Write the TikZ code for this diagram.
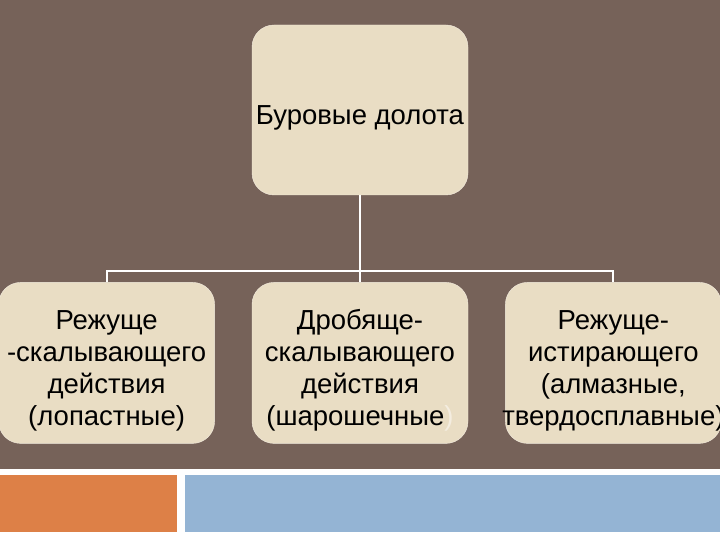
\documentclass[tikz,border=0pt]{standalone}
\usepackage{fontspec}
\setmainfont{Liberation Sans}
\usetikzlibrary{positioning,calc}
\definecolor{slidebrown}{HTML}{766259}
\definecolor{boxcream}{HTML}{E9DDC4}
\definecolor{boxedge}{HTML}{F4EDE0}
\definecolor{barorange}{HTML}{DD8047}
\definecolor{barblue}{HTML}{94B4D4}
\newcommand\toppad{\rule{0pt}{34pt}}

\begin{document}
\begin{tikzpicture}[
    x=1pt, y=-1pt,
    node distance=87pt and 37pt,
    bit/.style={rectangle, draw=boxedge, fill=boxcream, rounded corners=22pt,
                minimum width=216pt, minimum height=#1, inner sep=2pt,
                align=center, font=\fontsize{27.5}{32}\selectfont},
    bit/.default=161pt,
    conn/.style={draw=white, line width=2pt}
]
\useasboundingbox (0,0) rectangle (720,540);
% slide background and footer bars
\fill[white] (0,0) rectangle (720,540);
\fill[slidebrown] (0,0) rectangle (720,469);
\fill[barorange] (0,475) rectangle (177,532);
\fill[barblue] (185,475) rectangle (720,532);

\node[bit=170pt] (drills) at (360,110) {\toppad Буровые долота};
\node[bit, below=87pt of drills] (crushing)
    {\toppad Дробяще-\\скалывающего\\действия\\(шарошечные{\color{boxedge})}};
\node[bit, left=37pt of crushing] (cutting)
    {\toppad Режуще\\-скалывающего\\действия\\(лопастные)};
\node[bit, right=37pt of crushing] (abrading)
    {\toppad Режуще-\\истирающего\\(алмазные,\\\makebox[0pt]{твердосплавные)}};

\coordinate (fork) at ($(crushing.north)+(0pt,11pt)$);
\draw[conn] (drills.south) -- (crushing.north);
\draw[conn] (cutting.north) |- (fork) -| (abrading.north);
\end{tikzpicture}
\end{document}
